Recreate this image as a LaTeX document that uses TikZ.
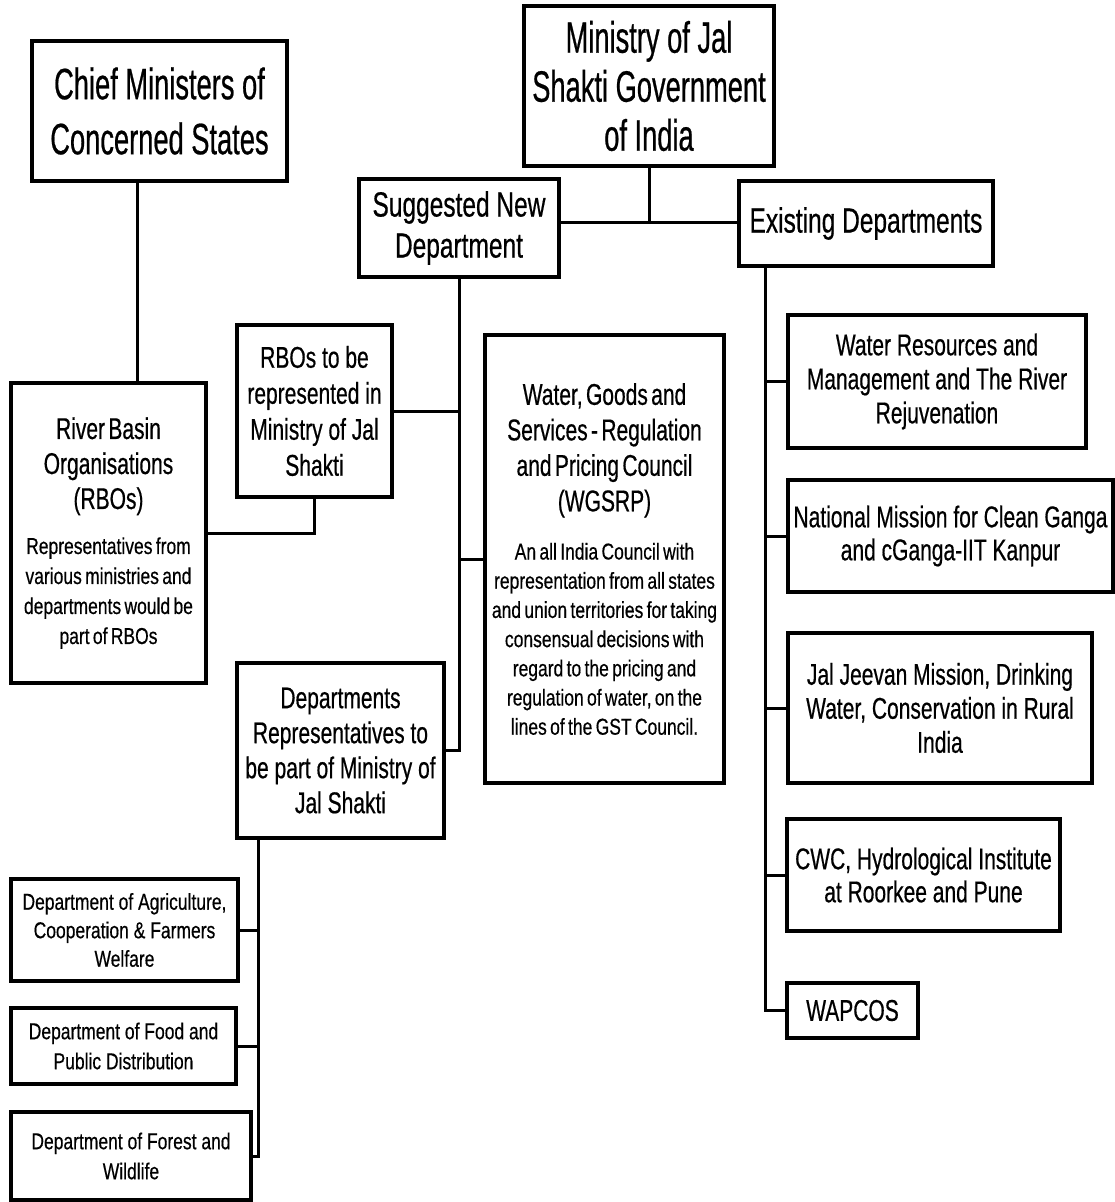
\documentclass[tikz,border=0pt]{standalone}
\usepackage{fontspec}
\setmainfont{Liberation Sans}
\newfontfamily\fA[FakeStretch=0.62,FakeBold=0.5]{Liberation Sans}
\newfontfamily\fB[FakeStretch=0.70,FakeBold=0.5]{Liberation Sans}
\newfontfamily\fC[FakeStretch=0.76,FakeBold=0.5]{Liberation Sans}
\tikzset{
  box/.style={draw, line width=3.8pt, inner sep=0pt, align=center, fill=white},
  conn/.style={line width=3pt},
}
\begin{document}
\begin{tikzpicture}[x=1pt,y=-1pt]
\useasboundingbox[fill=white] (0,0) rectangle (1115,1202);

% top level
\node[box, minimum width=255pt, minimum height=140pt, font=\fA\fontsize{44}{55}\selectfont] (chief) at (159.5,111) {Chief Ministers of\\Concerned States};
\node[box, minimum width=250pt, minimum height=160pt, font=\fA\fontsize{44}{49}\selectfont] (min) at (649,86) {Ministry of Jal\\Shakti Government\\of India};
\node[box, minimum width=200pt, minimum height=98pt, font=\fB\fontsize{35}{41}\selectfont] (sug) at (459,228) {Suggested New\\Department};
\node[box, minimum width=254pt, minimum height=85pt, font=\fB\fontsize{35}{41}\selectfont] (exist) at (866,223.5) {Existing Departments};

% suggested branch
\node[box, minimum width=155pt, minimum height=172pt, font=\fB\fontsize{30}{36}\selectfont] (rbotobe) at (314.5,411) {RBOs to be\\represented in\\Ministry of Jal\\Shakti};
\node[box, minimum width=195pt, minimum height=300pt, text width=190pt] (rbo) at (108.5,533)
  {{\fB\fontsize{30}{35}\selectfont River Basin\\Organisations\\(RBOs)\par}\vspace{15pt}{\fC\fontsize{23}{30}\selectfont Representatives from\\various ministries and\\departments would be\\part of RBOs\par}};
\node[box, minimum width=239pt, minimum height=448pt, text width=236pt] (wgsrp) at (604.5,559)
  {{\fB\fontsize{30}{35.5}\selectfont Water, Goods and\\Services - Regulation\\and Pricing Council\\(WGSRP)\par}\vspace{19pt}{\fC\fontsize{23}{29.2}\selectfont An all India Council with\\representation from all states\\and union territories for taking\\consensual decisions with\\regard to the pricing and\\regulation of water, on the\\lines of the GST Council.\par}};
\node[box, minimum width=207pt, minimum height=175pt, font=\fB\fontsize{30}{35}\selectfont] (deptrep) at (340.5,750.5) {Departments\\Representatives to\\be part of Ministry of\\Jal Shakti};

\node[box, minimum width=227pt, minimum height=102pt, font=\fC\fontsize{23}{28.5}\selectfont] (agri) at (124.5,930) {Department of Agriculture,\\Cooperation \& Farmers\\Welfare};
\node[box, minimum width=225pt, minimum height=76pt, font=\fC\fontsize{23}{30}\selectfont] (food) at (123.5,1046) {Department of Food and\\Public Distribution};
\node[box, minimum width=240pt, minimum height=88pt, font=\fC\fontsize{23}{30}\selectfont] (forest) at (131,1156) {Department of Forest and\\Wildlife};

% existing branch
\node[box, minimum width=298pt, minimum height=133pt, font=\fB\fontsize{30}{34}\selectfont] (wr) at (937,381.5) {Water Resources and\\Management and The River\\Rejuvenation};
\node[box, minimum width=325pt, minimum height=112pt, font=\fB\fontsize{30}{33}\selectfont] (nmcg) at (950.5,536) {National Mission for Clean Ganga\\and cGanga-IIT Kanpur};
\node[box, minimum width=304pt, minimum height=150pt, font=\fB\fontsize{30}{34}\selectfont] (jjm) at (940,708) {Jal Jeevan Mission, Drinking\\Water, Conservation in Rural\\India};
\node[box, minimum width=273pt, minimum height=112pt, font=\fB\fontsize{30}{33}\selectfont] (cwc) at (923.5,875) {CWC, Hydrological Institute\\at Roorkee and Pune};
\node[box, minimum width=131pt, minimum height=55pt, font=\fB\fontsize{30}{33}\selectfont] (wapcos) at (852.5,1010.5) {WAPCOS};

% connectors
\coordinate (j1) at (649,222);
\draw[conn] (min.south) -- (j1);
\draw[conn] (sug.east |- j1) -- (exist.west |- j1);

\draw[conn] (sug.south) |- (deptrep.east);
\draw[conn] (rbotobe.east) -- (rbotobe.east -| sug.south);
\draw[conn] (wgsrp.west) -- (wgsrp.west -| sug.south);

\draw[conn] ([xshift=-22.5pt]chief.south) -- ([xshift=28.5pt]rbo.north);
\draw[conn] (rbo.east) -| (rbotobe.south);

\coordinate (dv) at ([xshift=-82.5pt]deptrep.south);
\draw[conn] (dv) |- (forest.east);
\draw[conn] (agri.east) -- (agri.east -| dv);
\draw[conn] (food.east) -- (food.east -| dv);

\coordinate (ev) at ([xshift=-101pt]exist.south);
\draw[conn] (ev) |- (wapcos.west);
\draw[conn] (wr.west) -- (wr.west -| ev);
\draw[conn] (nmcg.west) -- (nmcg.west -| ev);
\draw[conn] (jjm.west) -- (jjm.west -| ev);
\draw[conn] (cwc.west) -- (cwc.west -| ev);
\end{tikzpicture}
\end{document}
